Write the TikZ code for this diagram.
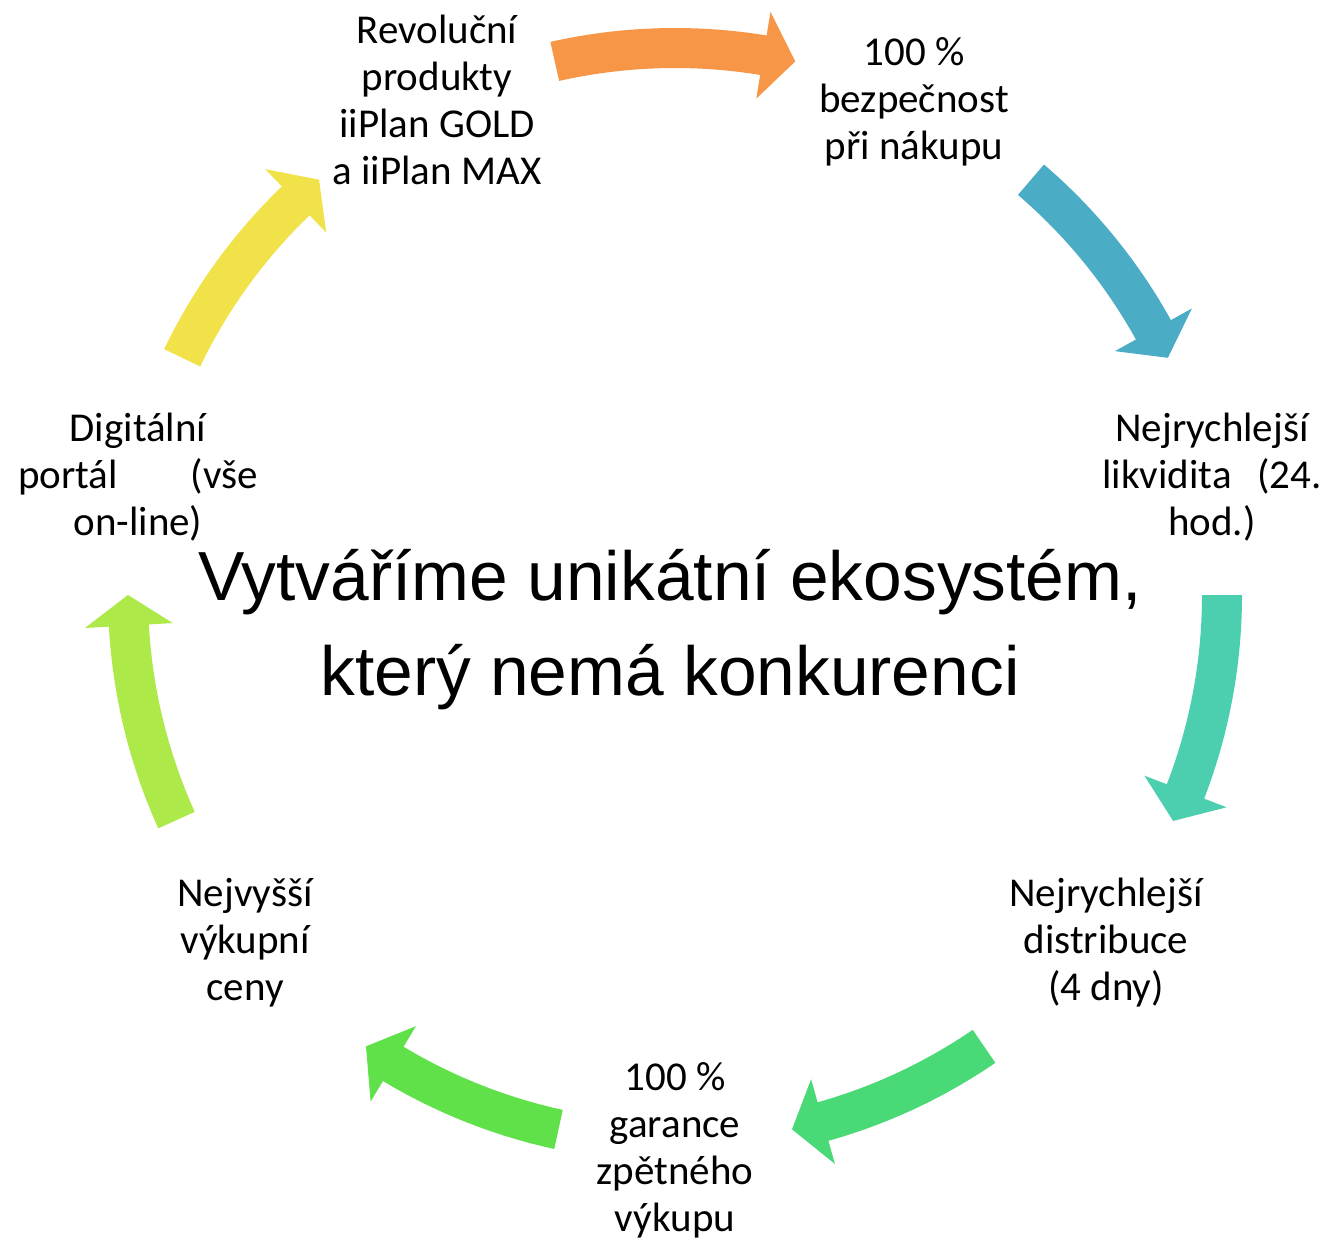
\documentclass[tikz,border=0pt]{standalone}
\usepackage{fontspec}
\setmainfont{Carlito}
\newfontfamily\arialf{Liberation Sans}
\definecolor{corange}{HTML}{F79646}
\definecolor{cblue}{HTML}{4BACC6}
\definecolor{cteal}{HTML}{4BCFAE}
\definecolor{cgreen}{HTML}{4AD977}
\definecolor{cgreenb}{HTML}{60E14A}
\definecolor{clime}{HTML}{ADE948}
\definecolor{cyellow}{HTML}{F1E24A}
% colour, tail angle, head base angle, tip angle
\newcommand\cycarrow[4]{%
  \fill[#1] (#2:567pt) arc[start angle=#2, end angle=#3, radius=567pt]
    -- (#3:591pt) -- (#4:547pt) -- (#3:503pt) -- (#3:527pt)
    arc[start angle=#3, end angle=#2, radius=527pt] -- cycle;}
\tikzset{
  lbl/.style={inner sep=0pt, anchor=base, font=\fontsize{41}{47}\selectfont, text=black},
  title/.style={inner sep=0pt, anchor=base, font=\arialf\fontsize{69.5}{95}\selectfont, text=black}
}
\begin{document}
\begin{tikzpicture}[x=1pt,y=1pt]
\fill[white] (0,0) rectangle (1325,-1240);
\useasboundingbox (0,0) rectangle (1325,-1240);
\begin{scope}[shift={(675,-595)}]
  \cycarrow{corange}{102.7}{80.7}{77.3}
  \cycarrow{cblue}{49.4}{29.0}{25.7}
  \cycarrow{cteal}{0}{-21.05}{-24.4}
  \cycarrow{cgreen}{-55.6}{-74.3}{-77.65}
  \cycarrow{cgreenb}{-102.3}{-121.0}{-124.4}
  \cycarrow{clime}{204.3}{183.2}{180}
  \cycarrow{cyellow}{154.3}{133.9}{130.6}
\end{scope}
\node[lbl] (n1) at (437,-43) {\begin{tabular}[t]{@{}c@{}}Revoluční\\produkty\\iiPlan GOLD\\a iiPlan MAX\end{tabular}};
\node[lbl] (n2) at (914,-65) {\begin{tabular}[t]{@{}c@{}}100 \%\\bezpečnost\\při nákupu\end{tabular}};
\node[lbl] (n3) at (1212,-441) {\begin{tabular}[t]{@{}c@{}}Nejrychlejší\\\hbox to 219pt{likvidita\hfill(24.}\\hod.)\end{tabular}};
\node[lbl] (n4) at (1106,-906) {\begin{tabular}[t]{@{}c@{}}Nejrychlejší\\distribuce\\(4 dny)\end{tabular}};
\node[lbl] (n5) at (675,-1090) {\begin{tabular}[t]{@{}c@{}}100 \%\\garance\\zpětného\\výkupu\end{tabular}};
\node[lbl] (n6) at (245,-906) {\begin{tabular}[t]{@{}c@{}}Nejvyšší\\výkupní\\ceny\end{tabular}};
\node[lbl] (n7) at (138,-441) {\begin{tabular}[t]{@{}c@{}}Digitální\\\hbox to 240pt{portál\hfill(vše}\\on-line)\end{tabular}};
\node[title] (t) at (670,-600) {\begin{tabular}[t]{@{}c@{}}Vytváříme unikátní ekosystém,\\který nemá konkurenci\end{tabular}};
\end{tikzpicture}
\end{document}
